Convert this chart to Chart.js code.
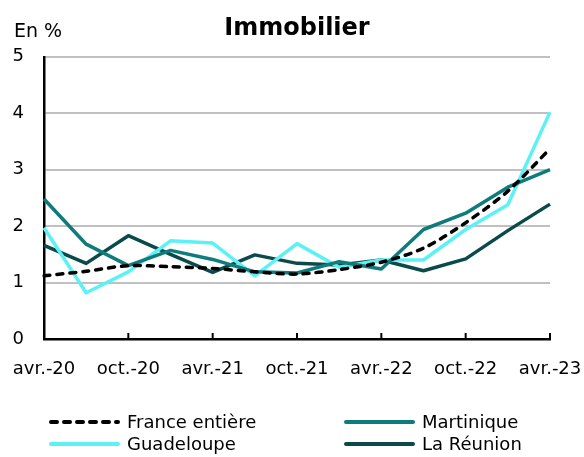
<!DOCTYPE html>
<html>
<head>
<meta charset="utf-8">
<script src="https://cdn.jsdelivr.net/npm/chart.js@4"></script>
<style>
html,body{margin:0;padding:0;background:#fff;}
#wrap{width:584px;height:457px;}
</style>
</head>
<body>
<div id="wrap"><canvas id="c" width="584" height="457"></canvas></div>
<script>
const categories = ['avr.-20','juil.-20','oct.-20','janv.-21','avr.-21','juil.-21','oct.-21','janv.-22','avr.-22','juil.-22','oct.-22','janv.-23','avr.-23'];
const franceEntiere = [1.12,1.20,1.30,1.28,1.25,1.19,1.15,1.23,1.36,1.61,2.06,2.62,3.37];
const martinique    = [2.48,1.68,1.30,1.57,1.41,1.19,1.17,1.37,1.24,1.94,2.23,2.69,3.00];
const guadeloupe    = [1.97,0.82,1.19,1.74,1.70,1.12,1.69,1.27,1.40,1.40,1.94,2.38,4.02];
const laReunion     = [1.66,1.34,1.83,1.50,1.18,1.49,1.34,1.31,1.40,1.21,1.42,1.92,2.39];
const yTicks = [0,1,2,3,4,5];
const seriesNames = ['France entière','Martinique','Guadeloupe','La Réunion'];
const FONT = '"DejaVu Sans", Verdana, sans-serif';

const colors = ['#000000','#0f7b7b','#5cf2f5','#0a4a4a'];

const overlay = {
  id:'overlay',
  afterDraw(chart){
    const ctx = chart.ctx;
    const xs = chart.scales.x;
    const area = chart.chartArea;
    ctx.save();
    // inner tick marks on x axis
    ctx.strokeStyle = '#000'; ctx.lineWidth = 2;
    categories.forEach((c,i)=>{
      if(i%2===0){
        const px = xs.getPixelForValue(i);
        ctx.beginPath(); ctx.moveTo(px, area.bottom); ctx.lineTo(px, area.bottom-6); ctx.stroke();
      }
    });
    // unit label
    ctx.fillStyle = '#000';
    ctx.font = '19px ' + FONT;
    ctx.textAlign = 'left'; ctx.textBaseline = 'alphabetic';
    ctx.fillText('En %', 14, 37);
    // legend 2x2
    const ds = chart.data.datasets;
    const colX = [49, 344];
    const rowY = [422, 444];
    ctx.font = '18px ' + FONT;
    ctx.textBaseline = 'middle';
    ds.forEach((d,i)=>{
      const col = i%2, row = Math.floor(i/2);
      const x0 = colX[col], y0 = rowY[row];
      ctx.strokeStyle = d.borderColor;
      ctx.lineWidth = 4;
      ctx.lineCap = 'round';
      ctx.setLineDash(d.borderDash || []);
      ctx.beginPath(); ctx.moveTo(x0+2, y0); ctx.lineTo(x0+69, y0); ctx.stroke();
      ctx.setLineDash([]);
      ctx.fillStyle = '#000';
      ctx.fillText(d.label, x0+78, y0+1);
    });
    ctx.restore();
  }
};

const mk = (i, data, extra) => Object.assign({
  label: seriesNames[i], data, borderColor: colors[i], backgroundColor: colors[i],
  borderWidth: 3.5, pointRadius: 0, tension: 0, fill: false, borderJoinStyle:'round'
}, extra||{});

new Chart(document.getElementById('c'), {
  type:'line',
  data:{
    labels: categories,
    datasets:[
      mk(0, franceEntiere, {borderDash:[6,7], borderCapStyle:'round', tension:0.3}),
      mk(1, martinique),
      mk(2, guadeloupe),
      mk(3, laReunion)
    ]
  },
  options:{
    responsive:false, animation:false, devicePixelRatio:1,
    layout:{padding:{top:4,right:34,left:0,bottom:0}},
    plugins:{
      legend:{display:false},
      tooltip:{enabled:false},
      title:{display:true, text:'Immobilier', fullSize:false, color:'#000',
        font:{family:FONT, size:24, weight:'bold', lineHeight:1.2},
        padding:{top:10,bottom:14}}
    },
    scales:{
      x:{
        offset:false,
        grid:{display:true, drawOnChartArea:false, drawTicks:false},
        border:{display:true, color:'#000', width:2.5},
        ticks:{autoSkip:false, maxRotation:0, padding:20, color:'#000',
          font:{family:FONT, size:18},
          callback:(v,i)=> i%2===0 ? categories[i] : ''},
        afterFit:(s)=>{ s.height = 118; s.paddingLeft = 0; s.paddingRight = 0; }
      },
      y:{
        min:0, max:5,
        afterBuildTicks:(s)=>{ s.ticks = yTicks.map(v=>({value:v})); },
        grid:{color:'#c0c0c0', lineWidth:2, drawTicks:false},
        border:{display:true, color:'#000', width:2.5},
        ticks:{padding:20, color:'#000', font:{family:FONT, size:18}},
        afterFit:(s)=>{ s.width = 44; s.paddingTop = 0; s.paddingBottom = 0; }
      }
    }
  },
  plugins:[overlay]
});
</script>
</body>
</html>
